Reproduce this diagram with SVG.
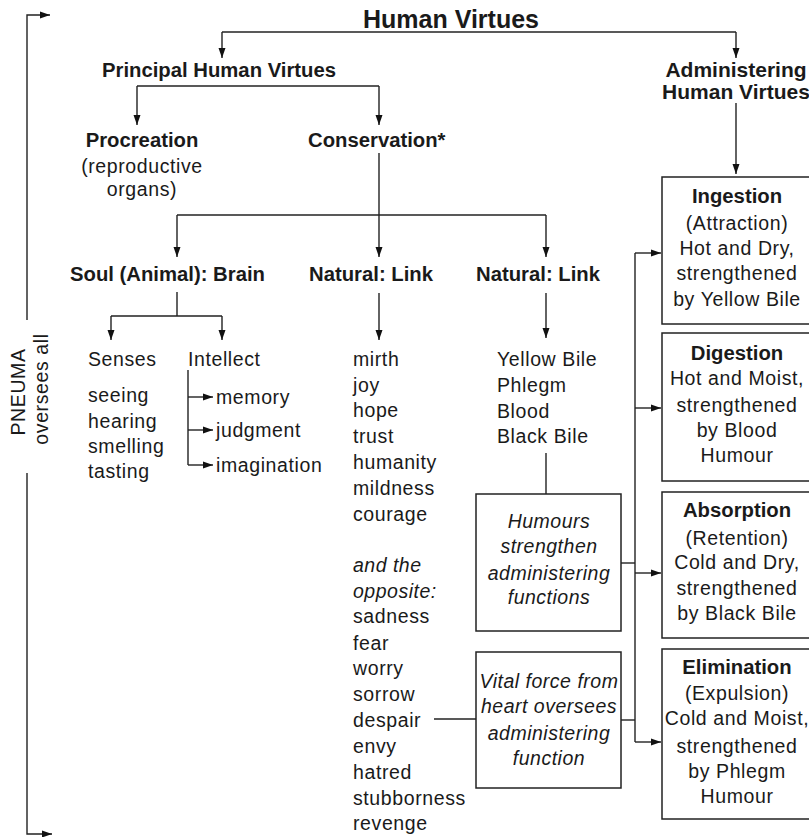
<svg xmlns="http://www.w3.org/2000/svg" width="809" height="837" viewBox="0 0 809 837">
<style>
  text { font-family: "Liberation Sans", Arial, Helvetica, sans-serif; fill: #1a1a1a; }
  .r { font-size: 19.5px; letter-spacing: 0.6px; }
  .b { font-size: 20.3px; font-weight: bold; }
  .i { font-size: 19.5px; font-style: italic; letter-spacing: 0.5px; }
  .t { font-size: 25px; font-weight: bold; }
  .m { text-anchor: middle; }
  .ln { fill: none; stroke: #222; stroke-width: 1.4; }
  .ar { fill: none; stroke: #222; stroke-width: 1.4; marker-end: url(#ah); }
  .box { fill: #fff; stroke: #222; stroke-width: 1.5; }
</style>
<defs>
  <marker id="ah" markerUnits="userSpaceOnUse" markerWidth="11" markerHeight="8" refX="10" refY="4" orient="auto">
    <path d="M0,0.5 L10,4 L0,7.5 z" fill="#111"/>
  </marker>
</defs>
<rect width="809" height="837" fill="#fff"/>

<g id="connectors">
  <path class="ln" d="M222,32 H736"/>
  <path class="ar" d="M222,32 V58"/>
  <path class="ar" d="M736,32 V58"/>
  <path class="ln" d="M137,86 H379"/>
  <path class="ar" d="M137,86 V125"/>
  <path class="ar" d="M379,86 V125"/>
  <path class="ar" d="M736,103 V174"/>
  <path class="ar" d="M379,153 V257"/>
  <path class="ln" d="M177,215 H546"/>
  <path class="ar" d="M177,215 V257"/>
  <path class="ar" d="M546,215 V257"/>
  <path class="ln" d="M177,292 V316 M111,316 H222"/>
  <path class="ar" d="M111,316 V340"/>
  <path class="ar" d="M222,316 V340"/>
  <path class="ar" d="M379,293 V340"/>
  <path class="ar" d="M546,293 V338"/>
  <path class="ln" d="M188,370 V465"/>
  <path class="ar" d="M188,397 H213"/>
  <path class="ar" d="M188,430 H213"/>
  <path class="ar" d="M188,465 H213"/>
  <path class="ln" d="M546,453 V494"/>
  <path class="ln" d="M434,719 H476"/>
  <path class="ln" d="M621,563 H635"/>
  <path class="ln" d="M621,720 H635"/>
  <path class="ln" d="M635,253 V742"/>
  <path class="ar" d="M635,253 H661"/>
  <path class="ar" d="M635,408 H661"/>
  <path class="ar" d="M635,573 H661"/>
  <path class="ar" d="M635,742 H661"/>
  <path class="ar" d="M27,320 V15 H50"/>
  <path class="ar" d="M27,473 V834 H52"/>
</g>

<g id="pneuma">
  <text class="r m" transform="translate(25,392) rotate(-90)">PNEUMA</text>
  <text class="r m" transform="translate(48,389) rotate(-90)">oversees all</text>
</g>

<g id="title"><text class="t" x="363" y="28">Human Virtues</text></g>
<g id="principal"><text class="b" x="102" y="77">Principal Human Virtues</text></g>
<g id="administering">
  <text class="b m" x="736" y="77" style="font-size:21px">Administering</text>
  <text class="b m" x="736" y="99" style="font-size:21px">Human Virtues</text>
</g>
<g id="procreation">
  <text class="b m" x="142" y="147">Procreation</text>
  <text class="r m" x="142" y="173">(reproductive</text>
  <text class="r m" x="142" y="196">organs)</text>
</g>
<g id="conservation"><text class="b" x="308" y="147">Conservation*</text></g>
<g id="soul"><text class="b" x="70" y="281">Soul (Animal): Brain</text></g>
<g id="natural1"><text class="b" x="309" y="281">Natural: Link</text></g>
<g id="natural2"><text class="b" x="476" y="281">Natural: Link</text></g>

<g id="senses">
  <text class="r" x="88" y="366">Senses</text>
  <text class="r" x="88" y="402">seeing</text>
  <text class="r" x="88" y="428">hearing</text>
  <text class="r" x="88" y="453">smelling</text>
  <text class="r" x="88" y="478">tasting</text>
</g>
<g id="intellect">
  <text class="r" x="188" y="366">Intellect</text>
  <text class="r" x="216" y="404">memory</text>
  <text class="r" x="216" y="437">judgment</text>
  <text class="r" x="216" y="472">imagination</text>
</g>
<g id="emotions">
  <text class="r" x="353" y="366">mirth</text>
  <text class="r" x="353" y="392">joy</text>
  <text class="r" x="353" y="417">hope</text>
  <text class="r" x="353" y="443">trust</text>
  <text class="r" x="353" y="469">humanity</text>
  <text class="r" x="353" y="495">mildness</text>
  <text class="r" x="353" y="521">courage</text>
  <text class="i" x="353" y="572">and the</text>
  <text class="i" x="353" y="598">opposite:</text>
  <text class="r" x="353" y="623">sadness</text>
  <text class="r" x="353" y="650">fear</text>
  <text class="r" x="353" y="675">worry</text>
  <text class="r" x="353" y="701">sorrow</text>
  <text class="r" x="353" y="727">despair</text>
  <text class="r" x="353" y="753">envy</text>
  <text class="r" x="353" y="779">hatred</text>
  <text class="r" x="353" y="805">stubborness</text>
  <text class="r" x="353" y="830">revenge</text>
</g>
<g id="humours-list">
  <text class="r" x="497" y="366">Yellow Bile</text>
  <text class="r" x="497" y="392">Phlegm</text>
  <text class="r" x="497" y="418">Blood</text>
  <text class="r" x="497" y="443">Black Bile</text>
</g>

<g id="humours-box">
  <rect class="box" x="476" y="494" width="145" height="137"/>
  <text class="i m" x="549" y="528">Humours</text>
  <text class="i m" x="549" y="553">strengthen</text>
  <text class="i m" x="549" y="580">administering</text>
  <text class="i m" x="549" y="604">functions</text>
</g>
<g id="vital-box">
  <rect class="box" x="476" y="652" width="145" height="136"/>
  <text class="i m" x="549" y="688">Vital force from</text>
  <text class="i m" x="549" y="713">heart oversees</text>
  <text class="i m" x="549" y="740">administering</text>
  <text class="i m" x="549" y="765">function</text>
</g>

<g id="ingestion">
  <rect class="box" x="662" y="177" width="152" height="147"/>
  <text class="b m" x="737" y="203">Ingestion</text>
  <text class="r m" x="737" y="230">(Attraction)</text>
  <text class="r m" x="737" y="255">Hot and Dry,</text>
  <text class="r m" x="737" y="280">strengthened</text>
  <text class="r m" x="737" y="306">by Yellow Bile</text>
</g>
<g id="digestion">
  <rect class="box" x="662" y="333" width="152" height="148"/>
  <text class="b m" x="737" y="360">Digestion</text>
  <text class="r m" x="737" y="385">Hot and Moist,</text>
  <text class="r m" x="737" y="412">strengthened</text>
  <text class="r m" x="737" y="437">by Blood</text>
  <text class="r m" x="737" y="462">Humour</text>
</g>
<g id="absorption">
  <rect class="box" x="662" y="492" width="152" height="146"/>
  <text class="b m" x="737" y="517">Absorption</text>
  <text class="r m" x="737" y="545">(Retention)</text>
  <text class="r m" x="737" y="569">Cold and Dry,</text>
  <text class="r m" x="737" y="595">strengthened</text>
  <text class="r m" x="737" y="620">by Black Bile</text>
</g>
<g id="elimination">
  <rect class="box" x="662" y="649" width="152" height="170"/>
  <text class="b m" x="737" y="674">Elimination</text>
  <text class="r m" x="737" y="700">(Expulsion)</text>
  <text class="r m" x="737" y="725">Cold and Moist,</text>
  <text class="r m" x="737" y="753">strengthened</text>
  <text class="r m" x="737" y="778">by Phlegm</text>
  <text class="r m" x="737" y="803">Humour</text>
</g>
</svg>
